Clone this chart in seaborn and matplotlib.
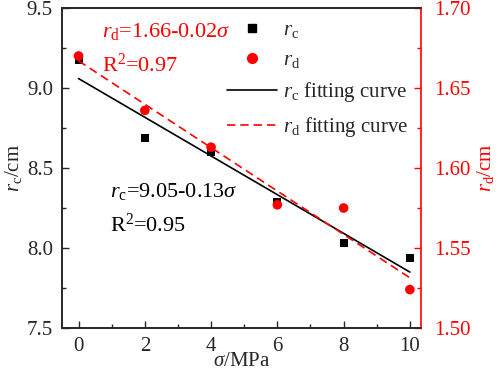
import numpy as np
import pandas as pd
import matplotlib
matplotlib.use("Agg")
import matplotlib.pyplot as plt
import seaborn as sns
from matplotlib.lines import Line2D

sigma = [0, 2, 4, 6, 8, 10]
rc = [9.175, 8.69, 8.60, 8.29, 8.03, 7.94]
rd = [1.670, 1.636, 1.613, 1.577, 1.575, 1.524]
xticks = [0, 2, 4, 6, 8, 10]
yticks_l = [7.5, 8.0, 8.5, 9.0, 9.5]
yticks_r = [1.50, 1.55, 1.60, 1.65, 1.70]

df = pd.DataFrame({"sigma": sigma, "rc": rc, "rd": rd})

sns.set_style("ticks")
plt.rcParams["font.family"] = ["Liberation Serif", "DejaVu Serif"]
plt.rcParams["mathtext.fontset"] = "custom"
plt.rcParams["mathtext.rm"] = "Liberation Serif"
plt.rcParams["mathtext.it"] = "Liberation Serif:italic"
plt.rcParams["mathtext.bf"] = "Liberation Serif:bold"
plt.rcParams["font.size"] = 15

FS = 15
FA = 16

fig = plt.figure(figsize=(4.98, 3.73), dpi=100)
ax = fig.add_axes([0.1245, 0.1206, 0.7205, 0.858])
ax2 = ax.twinx()

sns.scatterplot(data=df, x="sigma", y="rc", ax=ax, marker="s", color="black", s=34, edgecolor="none", zorder=3)
sns.regplot(data=df, x="sigma", y="rc", ax=ax, scatter=False, ci=None, color="black", line_kws={"lw": 1.2})
sns.scatterplot(data=df, x="sigma", y="rd", ax=ax2, marker="o", color="red", s=48, edgecolor="none", zorder=3)
sns.regplot(data=df, x="sigma", y="rd", ax=ax2, scatter=False, ci=None, color="red", line_kws={"lw": 1.2, "ls": (0, (5, 3))})

ax.set_xlim(-0.5, 10.33)
ax.set_ylim(7.5, 9.5)
ax2.set_ylim(1.50, 1.70)
ax.set_xticks(xticks)
ax.set_xticks([1, 3, 5, 7, 9], minor=True)
ax.set_yticks(yticks_l)
ax.set_yticks([7.75, 8.25, 8.75, 9.25], minor=True)
ax.set_yticklabels([f"{v:.1f}" for v in yticks_l])
ax2.set_yticks(yticks_r)
ax2.set_yticks([1.525, 1.575, 1.625, 1.675], minor=True)
ax2.set_yticklabels([f"{v:.2f}" for v in yticks_r])

ax.tick_params(axis="both", which="major", direction="in", length=5, width=1, labelsize=FS, top=False)
ax.tick_params(axis="x", which="major", pad=6.5)
ax.tick_params(axis="y", which="major", pad=6.5)
ax.tick_params(axis="both", which="minor", direction="in", length=3, width=1, top=False)
ax2.tick_params(axis="y", which="major", direction="in", length=5, width=1, colors="red", labelsize=FS, pad=9.5)
ax2.tick_params(axis="y", which="minor", direction="in", length=3, width=1, colors="red")

for s in ax.spines.values():
    s.set_linewidth(1.2)
for s in ax2.spines.values():
    s.set_linewidth(1.2)
ax2.spines["right"].set_color("red")
ax.spines["right"].set_visible(False)

ax.set_xlabel(r"$\sigma$/MPa", fontsize=FS, labelpad=-3)
ax.set_ylabel(r"$r_{\rm c}$/cm", fontsize=FS, labelpad=2)
ax2.set_ylabel(r"$r_{\rm d}$/cm", fontsize=FS, color="red", labelpad=3)

fig.text(102/498, 1-37/373, r"$r_{\rm d}$=1.66-0.02$\sigma$", color="red", fontsize=FA, va="baseline")
fig.text(102/498, 1-72/373, r"R$^{2}$=0.97", color="red", fontsize=FA, va="baseline")
fig.text(110/498, 1-197/373, r"$r_{\rm c}$=9.05-0.13$\sigma$", color="black", fontsize=FA, va="baseline")
fig.text(110/498, 1-232/373, r"R$^{2}$=0.95", color="black", fontsize=FA, va="baseline")

handles = [
    Line2D([], [], marker="s", color="black", ls="none", markersize=5.5),
    Line2D([], [], marker="o", color="red", ls="none", markersize=7),
    Line2D([], [], color="black", lw=1.2),
    Line2D([], [], color="red", lw=1.2, ls=(0, (5, 3))),
]
labels = [r"$r_{\rm c}$", r"$r_{\rm d}$", r"$r_{\rm c}$ fitting curve", r"$r_{\rm d}$ fitting curve"]
ax2.legend(handles, labels, loc="upper right", frameon=False, fontsize=FS,
           handlelength=2.4, handletextpad=0.3, labelspacing=0.5, borderaxespad=0.2)

fig.savefig("out.png", dpi=100)
